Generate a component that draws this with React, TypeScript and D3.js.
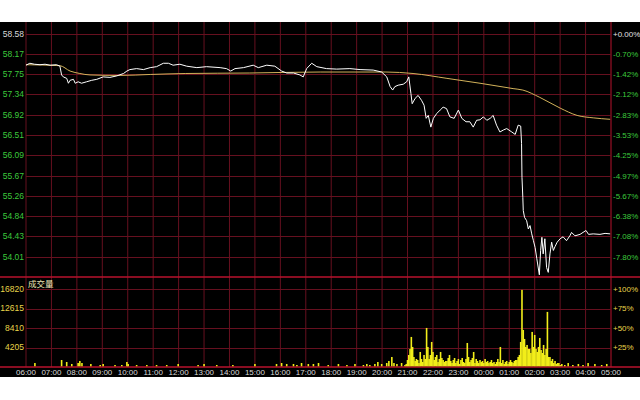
import React from "react";
import * as d3 from "d3";

// ---------- data ----------
const PREV_CLOSE = 58.58;
const priceTicks = [58.58, 58.17, 57.75, 57.34, 56.92, 56.51, 56.09, 55.67, 55.26, 54.84, 54.43, 54.01];
const pctTicks = ["+0.00%", "-0.70%", "-1.42%", "-2.12%", "-2.83%", "-3.53%", "-4.25%", "-4.97%", "-5.67%", "-6.38%", "-7.08%", "-7.80%"];
const volTicks = [16820, 12615, 8410, 4205];
const volPctTicks = ["+100%", "+75%", "+50%", "+25%"];
const hourLabels = ["06:00", "07:00", "08:00", "09:00", "10:00", "11:00", "12:00", "13:00", "14:00", "15:00", "16:00", "17:00",
  "18:00", "19:00", "20:00", "21:00", "22:00", "23:00", "00:00", "01:00", "02:00", "03:00", "04:00", "05:00"];

// [minutes after 06:00, price]
const priceSeries: [number, number][] = [
  [0, 57.94], [9, 57.98], [20, 57.96], [33, 57.95], [45, 57.96], [57, 57.94], [72, 57.95], [80, 57.92], [84, 57.74], [88, 57.70],
  [96, 57.67], [100, 57.57], [104, 57.63], [112, 57.65], [116, 57.57], [123, 57.60], [131, 57.57], [143, 57.60], [155, 57.63],
  [167, 57.65], [182, 57.70], [198, 57.69], [214, 57.72], [230, 57.77], [238, 57.82], [245, 57.85], [261, 57.87], [277, 57.85],
  [293, 57.89], [308, 57.91], [324, 57.98], [336, 57.98], [347, 57.94], [363, 57.96], [379, 57.92], [403, 57.89], [426, 57.91],
  [458, 57.89], [473, 57.87], [483, 57.82], [493, 57.87], [513, 57.89], [536, 57.94], [548, 57.89], [568, 57.94], [587, 57.92],
  [603, 57.82], [615, 57.78], [631, 57.78], [646, 57.74], [654, 57.70], [662, 57.87], [674, 57.98], [686, 57.91], [709, 57.87],
  [733, 57.86], [764, 57.87], [788, 57.85], [819, 57.84], [839, 57.80], [851, 57.70], [859, 57.50], [865, 57.43], [870, 57.50],
  [878, 57.53], [890, 57.55], [898, 57.60], [903, 57.70], [908, 57.36], [911, 57.15], [918, 57.26], [925, 57.32], [933, 57.22],
  [939, 57.12], [944, 56.85], [949, 56.91], [955, 56.67], [961, 56.85], [969, 56.95], [977, 57.02], [984, 57.08], [992, 57.05],
  [1000, 56.88], [1010, 56.85], [1020, 57.02], [1028, 56.85], [1038, 56.78], [1047, 56.78], [1055, 56.67], [1063, 56.81],
  [1071, 56.82], [1079, 56.88], [1087, 56.81], [1095, 56.85], [1102, 56.91], [1110, 56.71], [1118, 56.57], [1126, 56.61],
  [1134, 56.64], [1146, 56.57], [1154, 56.52], [1161, 56.71], [1167, 56.69], [1169, 56.33], [1170, 55.64], [1172, 55.23],
  [1173, 54.96], [1176, 54.82], [1181, 54.75], [1185, 54.58], [1189, 54.65], [1193, 54.48], [1197, 54.34], [1201, 54.20],
  [1205, 53.97], [1211, 53.64], [1214, 54.14], [1217, 54.41], [1220, 54.07], [1224, 54.38], [1228, 53.79], [1232, 53.69],
  [1236, 54.07], [1240, 54.31], [1244, 54.14], [1248, 54.22], [1253, 54.31], [1260, 54.38], [1267, 54.42], [1275, 54.34],
  [1283, 54.44], [1287, 54.51], [1295, 54.44], [1307, 54.47], [1321, 54.55], [1327, 54.47], [1338, 54.48], [1354, 54.47],
  [1366, 54.49], [1378, 54.48],
];

// [minutes after 06:00, average price]
const avgSeries: [number, number][] = [
  [0, 57.95], [80, 57.93], [104, 57.82], [127, 57.77], [151, 57.74], [222, 57.73], [293, 57.75], [377, 57.77], [528, 57.78],
  [694, 57.80], [849, 57.80], [913, 57.77], [993, 57.67], [1071, 57.57], [1149, 57.46], [1172, 57.43], [1212, 57.28],
  [1260, 57.06], [1300, 56.91], [1338, 56.86], [1378, 56.83],
];

// sparse volume [minutes after 06:00, volume]
const volumeSparse: [number, number][] = [
  [21, 860], [84, 1510], [96, 1080], [108, 650], [123, 860], [127, 1300], [132, 860], [153, 650], [175, 430], [182, 650],
  [210, 430], [226, 430], [238, 1080], [241, 650], [261, 430], [285, 430], [308, 430], [332, 430], [359, 650], [406, 430],
  [420, 650], [450, 430], [488, 430], [540, 650], [591, 650], [603, 860], [615, 650], [631, 650], [639, 430], [650, 860],
  [666, 650], [678, 650], [690, 860], [713, 430], [737, 650], [757, 430], [776, 650], [796, 430], [804, 650], [811, 430],
  [823, 650], [830, 1080], [839, 650], [851, 860], [856, 1300], [863, 2160], [868, 860], [875, 650], [886, 860],
  [1264, 650], [1271, 430], [1279, 860], [1290, 430], [1303, 650], [1314, 430], [1326, 860], [1342, 650], [1358, 430], [1370, 650],
];

// 3-minute volume buckets from 20:54 (minute 894) to 03:00
const volumeDenseStart = 894;
const volumeDenseStep = 3;
const volumeDense = [
  430, 650, 1510, 2590, 3890, 6480, 4320, 2160, 1300, 1730, 1510, 860, 3240, 1730, 1080, 2590, 1730, 8420, 4320, 1730,
  2590, 5400, 3240, 1510, 2160, 2590, 1080, 1730, 3240, 1940, 1510, 1080, 1300, 1300, 1940, 2590, 1300, 860, 1510, 1940,
  860, 1300, 1730, 650, 1510, 1940, 1080, 860, 1730, 5180, 2160, 1080, 1510, 1940, 3240, 860, 1730, 1300, 860, 1510,
  1080, 1300, 860, 1730, 1080, 1300, 860, 1080, 1510, 860, 1080, 650, 1080, 1730, 1080, 4320, 860, 1510, 650, 1080,
  1300, 650, 1080, 1510, 1080, 860, 1300, 1510, 1510, 2160, 2590, 5400, 16630, 7990, 6050, 4320, 4750, 3890, 3890, 3020,
  7560, 4320, 6910, 3890, 3240, 4320, 6260, 3670, 3020, 4750, 2590, 3890, 11880, 2160, 2160, 1300, 1730, 860, 1300, 650,
  860, 860, 430,
];

// ---------- layout ----------
const W = 640;
const H = 400;
const L = 26;
const R = 611;
const BG_TOP = 22;
const BG_BOTTOM = 377;
const PRICE_TOP = 34;
const DIVIDER = 277;
const VOL_ZERO = 367;
const VOL_TOP_TICK = 289;

const GRID = "#66101f";
const DIV = "#b8122c";
const GREEN = "#3cc83c";
const YELLOW = "#e8d44a";
const FONT = "'Liberation Sans', Arial, sans-serif";

export default function App() {
  const x = d3.scaleLinear().domain([0, 1380]).range([L, R]);
  const priceBottom = PREV_CLOSE * (1 - 0.0780 * 12 / 11);
  const y = d3.scaleLinear().domain([priceBottom, PREV_CLOSE]).range([DIVIDER, PRICE_TOP]);
  const yv = d3.scaleLinear().domain([0, volTicks[0]]).range([VOL_ZERO, VOL_TOP_TICK]);

  const line = d3.line<[number, number]>().x((d) => x(d[0])).y((d) => y(d[1]));
  const avgLine = d3.line<[number, number]>().x((d) => x(d[0])).y((d) => y(d[1])).curve(d3.curveMonotoneX);

  const volumes: [number, number][] = [
    ...volumeSparse,
    ...volumeDense.map((v, i) => [volumeDenseStart + i * volumeDenseStep, v] as [number, number]),
  ];

  const hourX = hourLabels.map((_, i) => x(i * 60));

  return (
    <svg width={W} height={H} style={{ position: "absolute", left: 0, top: 0, display: "block" }} fontFamily={FONT}>
      <rect x={0} y={0} width={W} height={H} fill="#ffffff" />
      <rect x={0} y={BG_TOP} width={W} height={BG_BOTTOM - BG_TOP} fill="#000000" />

      {/* vertical grid */}
      {hourX.map((hx, i) => (
        <line key={"v" + i} x1={hx} x2={hx} y1={BG_TOP} y2={VOL_ZERO} stroke={i === hourX.length - 1 ? DIV : GRID} strokeWidth={1} />
      ))}
      {/* price grid */}
      {priceTicks.map((p, i) => (
        <line key={"hp" + i} x1={L} x2={R} y1={Math.round(y(p)) + 0.5} y2={Math.round(y(p)) + 0.5} stroke={GRID} strokeWidth={1} />
      ))}
      {/* volume grid */}
      {volTicks.map((v, i) => (
        <line key={"hv" + i} x1={L} x2={R} y1={Math.round(yv(v)) + 0.5} y2={Math.round(yv(v)) + 0.5} stroke={GRID} strokeWidth={1} />
      ))}
      {/* dividers */}
      <line x1={0} x2={W} y1={DIVIDER} y2={DIVIDER} stroke={DIV} strokeWidth={1.5} />
      <line x1={0} x2={W} y1={VOL_ZERO} y2={VOL_ZERO} stroke={DIV} strokeWidth={1.5} />

      {/* volume bars */}
      {volumes.map(([m, v], i) => (
        <rect key={"vb" + i} x={x(m) - 0.8} y={yv(v)} width={1.6} height={VOL_ZERO - 0.75 - yv(v)} fill="#f2ee1a" />
      ))}

      {/* avg & price lines */}
      <path d={avgLine(avgSeries) || ""} fill="none" stroke="#d2b25a" strokeWidth={1} />
      <path d={line(priceSeries) || ""} fill="none" stroke="#ffffff" strokeWidth={1} strokeLinejoin="round" />

      {/* left price labels */}
      {priceTicks.map((p, i) => (
        <text key={"lp" + i} x={24} y={y(p)} dy="0.35em" textAnchor="end" fontSize={8.5}
          fill={i === 0 ? "#d8d8d8" : GREEN}>{p.toFixed(2)}</text>
      ))}
      {/* right pct labels */}
      {pctTicks.map((t, i) => (
        <text key={"rp" + i} x={613} y={y(priceTicks[i])} dy="0.35em" textAnchor="start" fontSize={8}
          fill={i === 0 ? "#e0e0e0" : GREEN}>{t}</text>
      ))}
      {/* volume labels */}
      {volTicks.map((v, i) => (
        <text key={"lv" + i} x={24} y={yv(v)} dy="0.35em" textAnchor="end" fontSize={8.5} fill={YELLOW}>{v}</text>
      ))}
      {volPctTicks.map((t, i) => (
        <text key={"rv" + i} x={613} y={yv(volTicks[i])} dy="0.35em" textAnchor="start" fontSize={8} fill={YELLOW}>{t}</text>
      ))}
      <text x={28} y={284} dy="0.35em" fontSize={8.5} fill="#ece6b4" fontFamily="'Noto Sans CJK SC', sans-serif">成交量</text>

      {/* time labels */}
      {hourLabels.map((h, i) => (
        <text key={"t" + i} x={hourX[i]} y={372} dy="0.35em" textAnchor="middle" fontSize={8} fill="#d8d8d8">{h}</text>
      ))}
    </svg>
  );
}
